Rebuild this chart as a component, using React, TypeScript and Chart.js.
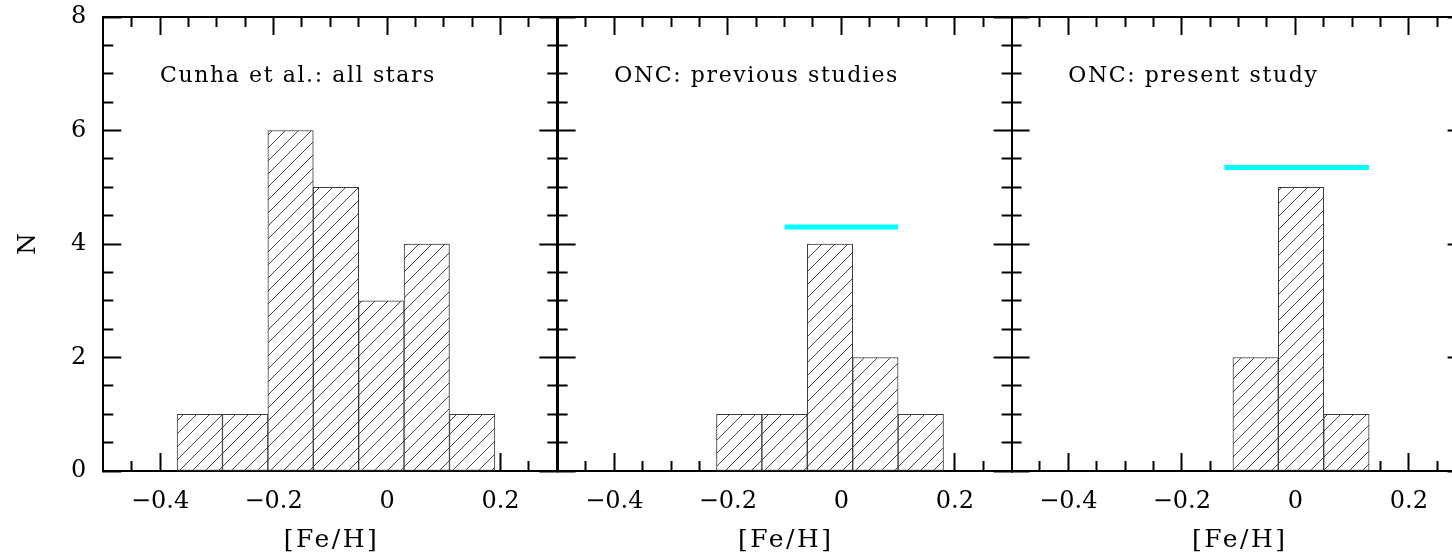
import React, { useEffect, useRef } from 'react';
import { Chart, registerables } from 'chart.js';

Chart.register(...registerables);

// ---------------- data ----------------
const panelLabels = ['Cunha et al.: all stars', 'ONC: previous studies', 'ONC: present study'];

const cunhaBinCenters = [-0.33, -0.25, -0.17, -0.09, -0.01, 0.07, 0.15];
const cunhaCounts = [1, 1, 6, 5, 3, 4, 1];

const oncPrevBinCenters = [-0.18, -0.10, -0.02, 0.06, 0.14];
const oncPrevCounts = [1, 1, 4, 2, 1];

const oncPresentBinCenters = [-0.07, 0.01, 0.09];
const oncPresentCounts = [2, 5, 1];

const oncPrevMeanX = [-0.1, 0.1];
const oncPrevMeanY = [4.3, 4.3];
const oncPresentMeanX = [-0.125, 0.13];
const oncPresentMeanY = [5.35, 5.35];

const xMajorTicks = [-0.4, -0.2, 0, 0.2];
const xMinorTicks = [-0.45, -0.35, -0.3, -0.25, -0.15, -0.1, -0.05, 0.05, 0.1, 0.15, 0.25];
const yMajorTicks = [0, 2, 4, 6, 8];
const yMinorTicks = [0.5, 1, 1.5, 2.5, 3, 3.5, 4.5, 5, 5.5, 6.5, 7, 7.5];

const xRange = [-0.5, 0.3];
const yRange = [0, 8];
const labelAnchor = [-0.4, 7];
const X_TITLE = '[Fe/H]';
const Y_TITLE = 'N';

// ---------------- layout ----------------
const CANVAS_W = 1500;
const CANVAS_H = 554;
const PLOT_TOP = 17;
const PLOT_BOTTOM = 471;
const PANEL_W = 454;
const PANEL_LEFTS = [103.3, 557.6, 1011.6];
const SERIF = '"DejaVu Serif", "Liberation Serif", serif';

function fmtX(v: number): string {
  if (Math.abs(v) < 1e-9) return '0';
  return v.toFixed(1).replace('-', '\u2212');
}

function makeHatch(ctxRef: CanvasRenderingContext2D): CanvasPattern | string {
  const s = 13;
  const c = document.createElement('canvas');
  c.width = s;
  c.height = s;
  const g = c.getContext('2d');
  if (!g) return '#ffffff';
  g.fillStyle = '#ffffff';
  g.fillRect(0, 0, s, s);
  g.strokeStyle = '#444444';
  g.lineWidth = 1;
  for (const k of [0, s, 2 * s]) {
    g.beginPath();
    g.moveTo(k - s - 1, s + 1);
    g.lineTo(k + 1, -1);
    g.stroke();
  }
  return ctxRef.createPattern(c, 'repeat') || '#ffffff';
}

const textPlugin = {
  id: 'panelText',
  afterDraw(chart: any, _args: any, opts: any) {
    const { ctx, chartArea, scales } = chart;
    ctx.save();
    ctx.fillStyle = '#000';
    // panel label anchored in data coordinates
    ctx.font = `22px ${SERIF}`;
    (ctx as any).letterSpacing = '1.6px';
    ctx.textAlign = 'left';
    ctx.textBaseline = 'alphabetic';
    const ax = scales.x.getPixelForValue(labelAnchor[0]);
    const ay = scales.y.getPixelForValue(labelAnchor[1]);
    ctx.fillText(opts.label, ax, ay + 8);
    // x-axis title
    ctx.font = `25px ${SERIF}`;
    (ctx as any).letterSpacing = '2.5px';
    const w = ctx.measureText(X_TITLE).width - 2.5;
    const cx = (chartArea.left + chartArea.right) / 2;
    ctx.fillText(X_TITLE, cx - w / 2, chartArea.bottom + 67 + 9);
    // y-axis title
    if (opts.showYTitle) {
      (ctx as any).letterSpacing = '0px';
      ctx.translate(26, (chartArea.top + chartArea.bottom) / 2);
      ctx.rotate(-Math.PI / 2);
      ctx.textAlign = 'center';
      ctx.fillText(Y_TITLE, 0, 9);
    }
    ctx.restore();
  },
};

function clearPad(s: any) {
  s.paddingLeft = 0;
  s.paddingRight = 0;
  s.paddingTop = 0;
  s.paddingBottom = 0;
}

function buildScales(i: number) {
  const showY = i === 0;
  const tickFont = { family: SERIF, size: 24 };
  const grid = (len: number) => ({
    display: true,
    drawOnChartArea: false,
    drawTicks: true,
    tickLength: -len,
    tickColor: '#000',
    tickWidth: 2,
    offset: false,
  });
  const border = { display: true, color: '#000', width: 2 };
  const setTicks = (list: number[]) => (scale: any) => {
    scale.ticks = list.map((v) => ({ value: v }));
  };
  const xBase = { type: 'linear', axis: 'x', min: xRange[0], max: xRange[1], offset: false, bounds: 'data', border };
  const yBase = { type: 'linear', axis: 'y', min: yRange[0], max: yRange[1], bounds: 'data', border };
  const zeroH = (s: any) => { s.height = 0; clearPad(s); };
  const zeroW = (s: any) => { s.width = 0; clearPad(s); };
  const hidden = { display: false };
  return {
    x: {
      ...xBase, position: 'bottom', weight: 1, grid: grid(18),
      afterBuildTicks: setTicks(xMajorTicks),
      afterFit: (s: any) => { s.height = CANVAS_H - PLOT_BOTTOM; clearPad(s); },
      ticks: {
        display: true, autoSkip: false, maxRotation: 0, minRotation: 0, padding: 34,
        color: '#000', font: tickFont, callback: (v: any) => fmtX(Number(v)),
      },
    },
    xMinor: { ...xBase, position: 'bottom', weight: 0, grid: grid(10), afterBuildTicks: setTicks(xMinorTicks), afterFit: zeroH, ticks: hidden },
    xTop: { ...xBase, position: 'top', weight: 0, grid: grid(18), afterBuildTicks: setTicks(xMajorTicks), afterFit: zeroH, ticks: hidden },
    xTopMinor: { ...xBase, position: 'top', weight: 1, grid: grid(10), afterBuildTicks: setTicks(xMinorTicks), afterFit: zeroH, ticks: hidden },
    y: {
      ...yBase, position: 'left', weight: 1, grid: grid(18),
      afterBuildTicks: setTicks(yMajorTicks),
      afterFit: (s: any) => { s.width = PANEL_LEFTS[i]; clearPad(s); },
      ticks: { display: showY, padding: 35, color: '#000', font: tickFont, callback: (v: any) => String(v) },
    },
    yMinor: { ...yBase, position: 'left', weight: 0, grid: grid(10), afterBuildTicks: setTicks(yMinorTicks), afterFit: zeroW, ticks: hidden },
    yRight: { ...yBase, position: 'right', weight: 0, grid: grid(18), afterBuildTicks: setTicks(yMajorTicks), afterFit: zeroW, ticks: hidden },
    yRightMinor: { ...yBase, position: 'right', weight: 1, grid: grid(10), afterBuildTicks: setTicks(yMinorTicks), afterFit: zeroW, ticks: hidden },
  };
}

const panelData = [
  { centers: cunhaBinCenters, counts: cunhaCounts, meanX: null as number[] | null, meanY: null as number[] | null },
  { centers: oncPrevBinCenters, counts: oncPrevCounts, meanX: oncPrevMeanX, meanY: oncPrevMeanY },
  { centers: oncPresentBinCenters, counts: oncPresentCounts, meanX: oncPresentMeanX, meanY: oncPresentMeanY },
];

export default function App() {
  const refs = [useRef<HTMLCanvasElement>(null), useRef<HTMLCanvasElement>(null), useRef<HTMLCanvasElement>(null)];

  useEffect(() => {
    document.body.style.margin = '0';
    const charts: Chart[] = [];
    panelData.forEach((p, i) => {
      const canvas = refs[i].current;
      if (!canvas) return;
      const ctx = canvas.getContext('2d');
      if (!ctx) return;
      const hatch = makeHatch(ctx);
      const datasets: any[] = [
        {
          type: 'bar',
          data: p.centers.map((c, k) => ({ x: c, y: p.counts[k] })),
          backgroundColor: hatch,
          borderColor: '#3a3a3a',
          borderWidth: 1,
          borderSkipped: false,
          barPercentage: 1,
          categoryPercentage: 1,
          xAxisID: 'x',
          yAxisID: 'y',
          order: 2,
        },
      ];
      if (p.meanX && p.meanY) {
        datasets.push({
          type: 'line',
          data: p.meanX.map((x, k) => ({ x, y: (p.meanY as number[])[k] })),
          borderColor: '#00ffff',
          borderWidth: 5,
          borderCapStyle: 'butt',
          pointRadius: 0,
          fill: false,
          tension: 0,
          xAxisID: 'x',
          yAxisID: 'y',
          order: 1,
        });
      }
      const chart = new Chart(ctx, {
        type: 'bar',
        data: { datasets },
        options: {
          animation: false,
          responsive: false,
          devicePixelRatio: 1,
          events: [],
          layout: {
            padding: {
              left: 0,
              top: PLOT_TOP,
              right: CANVAS_W - (PANEL_LEFTS[i] + PANEL_W),
              bottom: 0,
            },
          },
          plugins: {
            legend: { display: false },
            tooltip: { enabled: false },
            panelText: { label: panelLabels[i], showYTitle: i === 0 },
          } as any,
          scales: buildScales(i) as any,
        },
        plugins: [textPlugin],
      } as any);
      charts.push(chart);
    });
    return () => charts.forEach((c) => c.destroy());
  }, []);

  return (
    <div style={{ position: 'relative', width: 1452, height: CANVAS_H, overflow: 'hidden', background: '#fff' }}>
      {refs.map((r, i) => (
        <canvas
          key={i}
          ref={r}
          width={CANVAS_W}
          height={CANVAS_H}
          style={{ position: 'absolute', left: 0, top: 0, width: CANVAS_W, height: CANVAS_H }}
        />
      ))}
    </div>
  );
}
